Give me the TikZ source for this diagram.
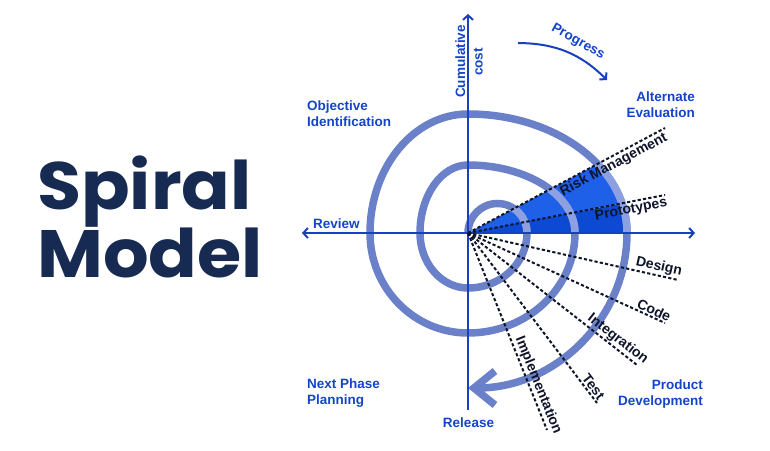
\documentclass[tikz,border=0pt]{standalone}
\usepackage{fontspec}
\setmainfont{Liberation Sans}
\newfontfamily\titlefont{Poppins}[FakeStretch=1.07]
\usetikzlibrary{arrows.meta}
\definecolor{axisblue}{RGB}{26,64,192}
\definecolor{lblblue}{RGB}{20,68,200}
\definecolor{darklbl}{RGB}{14,20,42}
\definecolor{titlenavy}{RGB}{22,42,82}
\definecolor{spiralc}{RGB}{106,128,200}
\definecolor{spirallight}{RGB}{140,160,226}
\definecolor{fillA}{RGB}{30,96,232}
\definecolor{fillB}{RGB}{12,74,212}
\newcommand\spiralpath{(O) arc[start angle=180,end angle=0,radius=29.5pt]
  arc[start angle=0,end angle=-90,x radius=59pt,y radius=55pt]
  arc[start angle=-90,end angle=-180,x radius=48pt,y radius=55pt]
  arc[start angle=180,end angle=90,x radius=48pt,y radius=68pt]
  arc[start angle=90,end angle=0,x radius=107pt,y radius=68pt]
  arc[start angle=0,end angle=-90,x radius=107pt,y radius=100pt]
  arc[start angle=-90,end angle=-180,x radius=98pt,y radius=100pt]
  arc[start angle=180,end angle=90,x radius=98pt,y radius=119pt]
  arc[start angle=90,end angle=0,x radius=159pt,y radius=119pt]
  arc[start angle=0,end angle=-90,x radius=159pt,y radius=155pt]}
\begin{document}
\begin{tikzpicture}[x=1pt,y=1pt,
  axis/.style={draw=axisblue,line width=2pt},
  spiral/.style={draw=spiralc,line width=7.5pt},
  dline/.style={draw=darklbl,line width=2pt,dash pattern=on 3.2pt off 2.2pt},
  lbl/.style={font=\fontsize{14}{16}\selectfont\bfseries,text=darklbl,inner sep=1pt},
  qlbl/.style={font=\fontsize{13.5}{16}\selectfont\bfseries,text=lblblue,inner sep=0pt},
  titletxt/.style={font=\titlefont\bfseries\fontsize{67}{70}\selectfont,text=titlenavy,inner sep=0pt}]
\useasboundingbox (0,0) rectangle (770,450);
\coordinate (O) at (468,217);
\coordinate (L) at (302,217);
\coordinate (R) at (695,217);
\coordinate (B) at (468,40);
\coordinate (T) at (468,436);
\coordinate (rm) at (665,322);
\coordinate (pt) at (665,255);
\coordinate (X) at (665,217);
\coordinate (de) at (678,170);
\coordinate (co) at (665,127);
\coordinate (in) at (637,85);
\coordinate (te) at (597,47);
\coordinate (im) at (547,20);
% sector fills
\begin{scope}
\clip (O) -- (rm) -- (pt) -- cycle;
\fill[fillA] (O) ellipse[x radius=160pt,y radius=120pt];
\end{scope}
\begin{scope}
\clip (O) -- (pt) -- (X) -- cycle;
\fill[fillB] (O) ellipse[x radius=160pt,y radius=120pt];
\end{scope}
% spiral
\draw[spiral,-{Straight Barb[length=21pt,width=34pt]}] \spiralpath;
\begin{scope}
\clip (O) -- (rm) -- (X) -- cycle;
\draw[draw=spirallight,line width=7.5pt] \spiralpath;
\end{scope}
% axes
\draw[axis,{Straight Barb[length=4.5pt,width=10pt]}-{Straight Barb[length=4.5pt,width=10pt]}] (L) -- (R);
\draw[axis,-{Straight Barb[length=4.5pt,width=10pt]}] (B) -- (T);
% dashed lines with labels
\draw[dline] (O) -- (rm) node[lbl,sloped,below,pos=0.72] (rml) {Risk Management};
\draw[dline] (O) -- (pt) node[lbl,sloped,below,pos=0.82] (ptl) {Prototypes};
\draw[dline] (O) -- (de) node[lbl,sloped,above,pos=0.9] (del) {Design};
\draw[dline] (O) -- (co) node[lbl,sloped,above,pos=0.93] (col) {Code};
\draw[dline] (O) -- (in) node[lbl,sloped,above,pos=0.855] (inl) {Integration};
\draw[dline] (O) -- (te) node[lbl,sloped,above,pos=0.93] (tel) {Test};
\draw[dline] (O) -- (im) node[lbl,sloped,above,pos=0.79] (iml) {Implementation};
% progress arrow
\coordinate (pg1) at (518,407);
\coordinate (pg2) at (607,370);
\draw[axis,-{Straight Barb[length=4.5pt,width=10pt]}] (pg1) to[bend left=22] (pg2);
\node[qlbl,rotate=-29] (prog) at (578,408) {Progress};
% axis labels
\node[qlbl,rotate=90,anchor=base] (cum) at (465,388.5) {Cumulative};
\node[qlbl,rotate=90,anchor=base] (cost) at (482.5,388) {cost};
\node[qlbl,anchor=base west] (rev) at (313,221) {Review};
\node[qlbl,anchor=base] (rel) at (468.5,23) {Release};
% quadrant labels
\node[qlbl,anchor=north west,align=left] (obj) at (307,349) {Objective\\Identification};
\node[qlbl,anchor=north east,align=right] (alt) at (695,358) {Alternate\\Evaluation};
\node[qlbl,anchor=north west,align=left] (nxt) at (307,71) {Next Phase\\Planning};
\node[qlbl,anchor=north east,align=right] (prd) at (703,70) {Product\\Development};
% title
\node[titletxt,anchor=base west] (sp) at (37,240) {Spiral};
\node[titletxt,anchor=base west] (md) at (37,172) {Model};
\end{tikzpicture}
\end{document}
